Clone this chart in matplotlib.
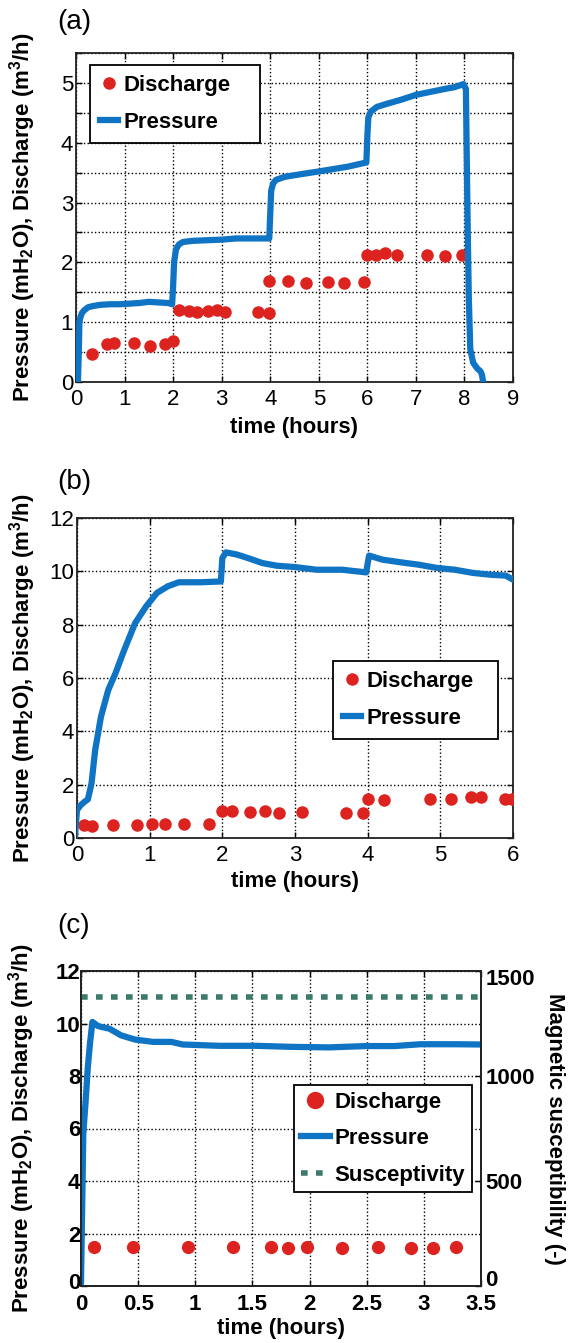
import matplotlib
matplotlib.use('Agg')
import matplotlib.pyplot as plt
from matplotlib.transforms import ScaledTranslation

plt.rcParams['font.family'] = ['Liberation Sans', 'DejaVu Sans']
plt.rcParams['mathtext.fontset'] = 'custom'
plt.rcParams['mathtext.rm'] = 'Liberation Sans'
plt.rcParams['mathtext.bf'] = 'Liberation Sans:bold'
plt.rcParams['mathtext.default'] = 'bf'

BLUE = '#0f74c4'
RED = '#dd2320'
GREEN = '#3d7a6b'

# ---------------- data: panel (a) ----------------
a_p_time = [0.04, 0.06, 0.07, 0.09, 0.12, 0.17, 0.25, 0.35, 0.5, 0.7, 0.9, 1.1, 1.3,
            1.5, 1.7, 1.9, 1.98, 2.0, 2.02, 2.06, 2.12, 2.2, 2.4, 2.7, 3.0, 3.3, 3.6,
            3.98, 4.0, 4.02, 4.06, 4.12, 4.3, 4.6, 5.0, 5.3, 5.6, 5.98, 6.0, 6.02,
            6.07, 6.2, 6.4, 6.7, 7.0, 7.3, 7.6, 7.8, 7.98, 8.03, 8.05, 8.07, 8.09,
            8.12, 8.18, 8.27, 8.33, 8.36, 8.38]
a_p_val = [0.0, 0.6, 1.0, 1.08, 1.15, 1.2, 1.25, 1.27, 1.29, 1.3, 1.3, 1.31, 1.32,
           1.34, 1.33, 1.32, 1.3, 1.6, 2.0, 2.22, 2.3, 2.34, 2.36, 2.37, 2.38, 2.4, 2.4,
           2.4, 2.8, 3.2, 3.32, 3.38, 3.43, 3.47, 3.52, 3.56, 3.6, 3.67, 4.1, 4.42,
           4.52, 4.6, 4.65, 4.72, 4.8, 4.85, 4.9, 4.93, 4.98, 4.9, 3.6, 2.4, 1.4,
           0.55, 0.32, 0.22, 0.18, 0.12, 0.03]
a_d_time = [0.32, 0.63, 0.78, 1.20, 1.52, 1.83, 2.0, 2.13, 2.32, 2.49, 2.71, 2.91,
            3.07, 3.74, 3.97, 3.98, 4.37, 4.73, 5.18, 5.51, 5.94, 6.0, 6.17, 6.36,
            6.61, 7.22, 7.6, 7.95]
a_d_val = [0.46, 0.63, 0.65, 0.66, 0.61, 0.64, 0.69, 1.21, 1.18, 1.17, 1.19, 1.2,
           1.17, 1.17, 1.15, 1.69, 1.69, 1.66, 1.68, 1.66, 1.68, 2.12, 2.13, 2.15,
           2.12, 2.12, 2.1, 2.12]

# ---------------- data: panel (b) ----------------
b_p_time = [-0.03, 0.0, 0.05, 0.1, 0.15, 0.2, 0.25, 0.33, 0.43, 0.53, 0.65, 0.8,
            0.95, 1.1, 1.25, 1.4, 1.7, 1.98, 2.0, 2.05, 2.2, 2.35, 2.55, 2.75, 3.0,
            3.3, 3.65, 3.98, 4.0, 4.02, 4.2, 4.45, 4.7, 4.95, 5.2, 5.45, 5.7, 5.9, 6.0]
b_p_val = [0.0, 1.05, 1.23, 1.35, 1.45, 2.05, 3.3, 4.55, 5.55, 6.18, 7.05, 8.06,
           8.68, 9.19, 9.44, 9.59, 9.59, 9.62, 10.5, 10.71, 10.63, 10.5, 10.31,
           10.21, 10.16, 10.06, 10.06, 9.96, 10.3, 10.59, 10.44, 10.34, 10.25,
           10.13, 10.06, 9.94, 9.87, 9.84, 9.69]
b_d_time = [0.09, 0.2, 0.5, 0.83, 1.03, 1.21, 1.47, 1.81, 1.99, 2.13, 2.38, 2.59,
            2.78, 3.09, 3.7, 3.93, 4.0, 4.23, 4.86, 5.15, 5.42, 5.56, 5.89, 5.99]
b_d_val = [0.48, 0.44, 0.49, 0.49, 0.51, 0.51, 0.51, 0.54, 1.0, 1.0, 0.98, 1.0,
           0.94, 0.98, 0.95, 0.95, 1.45, 1.42, 1.48, 1.48, 1.54, 1.54, 1.48, 1.45]

# ---------------- data: panel (c) ----------------
c_p_time = [-0.02, 0.0, 0.02, 0.04, 0.06, 0.08, 0.1, 0.15, 0.25, 0.35, 0.47, 0.63,
            0.79, 0.89, 1.21, 1.53, 1.85, 2.17, 2.49, 2.74, 2.97, 3.28, 3.5]
c_p_val = [0.0, 0.1, 5.8, 7.0, 8.35, 9.3, 10.06, 9.9, 9.8, 9.55, 9.39, 9.3, 9.3,
           9.2, 9.15, 9.15, 9.11, 9.09, 9.14, 9.14, 9.21, 9.21, 9.2]
c_d_time = [0.115, 0.457, 0.94, 1.33, 1.66, 1.81, 1.98, 2.28, 2.6, 2.89, 3.08, 3.28]
c_d_val = [1.5, 1.5, 1.5, 1.5, 1.5, 1.46, 1.5, 1.43, 1.47, 1.43, 1.43, 1.5]
c_s_time = [0.0, 3.48]
c_s_val = [1375, 1375]

a_xticks = list(range(0, 10))
a_ygrid = [0, 0.5, 1, 1.5, 2, 2.5, 3, 3.5, 4, 4.5, 5, 5.5]
a_yticklabels = ['0', '', '1', '', '2', '', '3', '', '4', '', '5', '']
b_xticks = list(range(0, 7))
b_yticks = [0, 2, 4, 6, 8, 10, 12]
c_xticks = [0, 0.5, 1, 1.5, 2, 2.5, 3, 3.5]
c_xticklabels = ['0', '0.5', '1', '1.5', '2', '2.5', '3', '3.5']
c_yticks = [0, 2, 4, 6, 8, 10, 12]
c_y2ticks = [0, 500, 1000, 1500]

YLABEL = 'Pressure (mH$_2$O), Discharge (m$^3$/h)'
XLABEL = 'time (hours)'
FS = 16
LW = 4.5

W, H = 570, 1343
fig = plt.figure(figsize=(W / 100, H / 100), dpi=100)


def add_ax(l, r, t, b):
    return fig.add_axes([l / W, 1 - b / H, (r - l) / W, (b - t) / H])


def style(ax):
    for s in ax.spines.values():
        s.set_linewidth(1.3)
        s.set_color('#222222')
    ax.grid(True, color='black', linestyle=':', linewidth=1.0)
    ax.tick_params(direction='in', length=4, width=1, top=True, right=True,
                   labelsize=FS, pad=5)
    ax.tick_params(axis='y', pad=2)


def legend(ax, handles, anchor, hl, borderpad=0.45, markerscale=1.0):
    leg = ax.legend(handles=handles, loc='upper left', bbox_to_anchor=anchor,
                    mode='expand', borderaxespad=0,
                    prop={'weight': 'bold', 'size': FS}, frameon=True,
                    fancybox=False, framealpha=1, edgecolor='black',
                    handlelength=hl, handletextpad=0.25, labelspacing=0.7,
                    borderpad=borderpad, markerscale=markerscale)
    leg.get_frame().set_linewidth(1.3)
    return leg


def shift_label(tick_label, dy_px):
    tick_label.set_transform(tick_label.get_transform() +
                             ScaledTranslation(0, dy_px / 100, fig.dpi_scale_trans))


# ---------------- panel (a) ----------------
ax = add_ax(76, 513, 53, 382)
d, = ax.plot(a_d_time, a_d_val, 'o', color=RED, markersize=8, label='Discharge',
             zorder=3)
p, = ax.plot(a_p_time, a_p_val, '-', color=BLUE, linewidth=LW, label='Pressure',
             zorder=4)
ax.set_xlim(0, 9)
ax.set_ylim(0, 5.5)
ax.set_xticks(a_xticks)
ax.set_yticks(a_ygrid)
ax.set_yticklabels(a_yticklabels)
style(ax)
ax.set_xlabel(XLABEL, fontsize=FS, fontweight='bold', va='top')
ax.xaxis.set_label_coords(0.5, -0.106)
ax.set_ylabel(YLABEL, fontsize=FS, fontweight='bold')
ax.yaxis.set_label_coords(-0.087, 0.5)
legend(ax, [d, p], (0.033, 0.9635, 0.389, 0.0), hl=0.8)
fig.text(57 / W, 1 - 22 / H, '(a)', fontsize=20, ha='left', va='center')

# ---------------- panel (b) ----------------
ax = add_ax(77, 513, 518, 838)
d, = ax.plot(b_d_time, b_d_val, 'o', color=RED, markersize=8, label='Discharge',
             zorder=3)
p, = ax.plot(b_p_time, b_p_val, '-', color=BLUE, linewidth=LW, label='Pressure',
             zorder=4)
ax.set_xlim(0, 6)
ax.set_ylim(0, 12)
ax.set_xticks(b_xticks)
ax.set_yticks(b_yticks)
style(ax)
ax.set_xlabel(XLABEL, fontsize=FS, fontweight='bold', va='top')
ax.xaxis.set_label_coords(0.5, -0.103)
ax.set_ylabel(YLABEL, fontsize=FS, fontweight='bold')
ax.yaxis.set_label_coords(-0.089, 0.5)
legend(ax, [d, p], (0.587, 0.553, 0.379, 0.0), hl=0.8)
fig.text(57 / W, 1 - 482 / H, '(b)', fontsize=20, ha='left', va='center')

# ---------------- panel (c) ----------------
ax = add_ax(81, 481, 971, 1286)
ax2 = ax.twinx()
d, = ax.plot(c_d_time, c_d_val, 'o', color=RED, markersize=8.5,
             label='Discharge', zorder=3)
p, = ax.plot(c_p_time, c_p_val, '-', color=BLUE, linewidth=LW, label='Pressure',
             zorder=4)
s, = ax2.plot(c_s_time, c_s_val, color=GREEN, linewidth=4,
              linestyle=(0, (1.2, 1.5)), dash_capstyle='butt',
              label='Susceptivity')
ax.set_xlim(0, 3.5)
ax.set_ylim(0, 12)
ax2.set_ylim(0, 1500)
ax.set_xticks(c_xticks)
ax.set_xticklabels(c_xticklabels, fontweight='bold')
ax.set_yticks(c_yticks)
ax.set_yticklabels([str(v) for v in c_yticks], fontweight='bold')
ax2.set_yticks(c_y2ticks)
ax2.set_yticklabels([str(v) for v in c_y2ticks], fontweight='bold')
style(ax)
ax.tick_params(right=False)
ax.tick_params(axis='y', pad=0.5)
ax.tick_params(axis='x', pad=6)
ax2.tick_params(direction='in', length=4, width=1, labelsize=FS, pad=3)
for sp in ax2.spines.values():
    sp.set_linewidth(1.3)
    sp.set_color('#222222')
# nudge corner labels as in the reference
shift_label(ax.yaxis.get_major_ticks()[0].label1, 5)
shift_label(ax2.yaxis.get_major_ticks()[0].label2, 8)
shift_label(ax2.yaxis.get_major_ticks()[-1].label2, -6)
ax.set_xlabel(XLABEL, fontsize=FS, fontweight='bold', va='top')
ax.xaxis.set_label_coords(0.5, -0.102)
ax.set_ylabel(YLABEL, fontsize=FS, fontweight='bold')
ax.yaxis.set_label_coords(-0.111, 0.5)
ax2.set_ylabel('Magnetic susceptibility (-)', fontsize=FS, fontweight='bold',
               rotation=270, va='bottom')
ax2.yaxis.set_label_coords(1.1575, 0.5)
leg = ax2.legend(handles=[d, p, s], loc='upper left',
                 bbox_to_anchor=(0.5325, 0.638, 0.445, 0.0), mode='expand',
                 borderaxespad=0, prop={'weight': 'bold', 'size': FS},
                 frameon=True, fancybox=False, framealpha=1, edgecolor='black',
                 handlelength=1.3, handletextpad=0.2, labelspacing=0.7,
                 borderpad=0.3, markerscale=1.35)
leg.get_frame().set_linewidth(1.3)
fig.text(57 / W, 1 - 926 / H, '(c)', fontsize=20, ha='left', va='center')

fig.savefig('out.png', dpi=100)
